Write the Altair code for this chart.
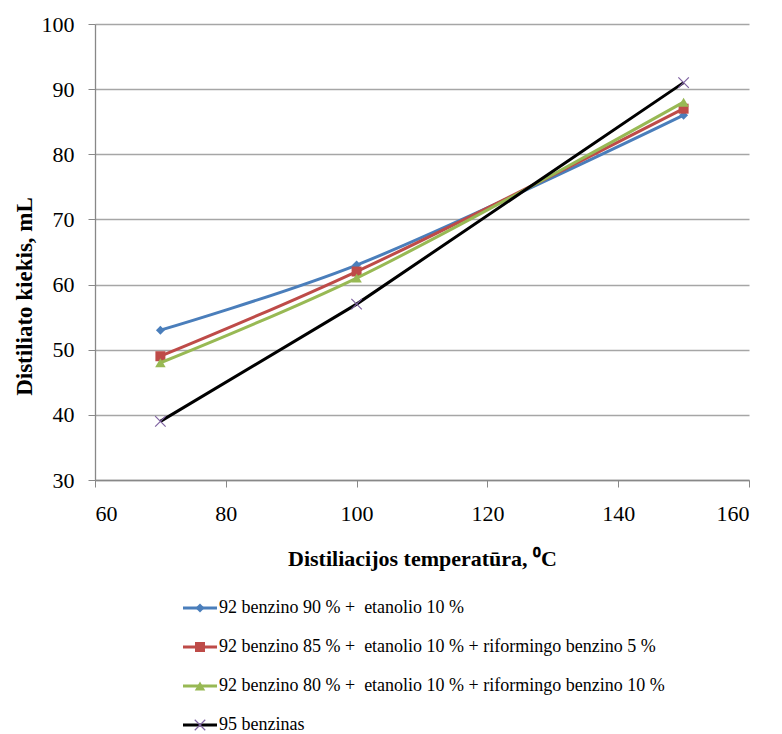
import altair as alt
import pandas as pd

temps = [70, 100, 150]
series_names = [
    "92 benzino 90 % +  etanolio 10 %",
    "92 benzino 85 % +  etanolio 10 % + riformingo benzino 5 %",
    "92 benzino 80 % +  etanolio 10 % + riformingo benzino 10 %",
    "95 benzinas",
]
s1 = [53, 63, 86]
s2 = [49, 62, 87]
s3 = [48, 61, 88]
s4 = [39, 57, 91]
values = [s1, s2, s3, s4]
colors = ["#4A7EBB", "#BE4B48", "#98B954", "#000000"]
marker_colors = ["#4A7EBB", "#BE4B48", "#98B954", "#7F63A1"]
shapes = ["diamond", "square", "triangle-up", "M-1,-1L1,1M-1,1L1,-1"]
sizes = [80, 100, 110, 110]

rows = []
for name, vals in zip(series_names, values):
    for t, v in zip(temps, vals):
        rows.append({"temp": t, "value": v, "series": name})
df = pd.DataFrame(rows)
leg_df = pd.DataFrame({"series": series_names,
                       "row": list(range(len(series_names))),
                       "label": [n.replace("+  ", "+ \u00a0") for n in series_names]})

FONT = "Times New Roman, Liberation Serif, serif"
W, H = 654, 456

xs = alt.X("temp:Q", scale=alt.Scale(domain=[60, 160], nice=False),
           axis=alt.Axis(values=[60, 80, 100, 120, 140, 160], grid=False,
                         title="Distiliacijos temperatūra, \u2070C",
                         titleFontSize=22, titleY=85, titleBaseline="alphabetic"))
ys = alt.Y("value:Q", scale=alt.Scale(domain=[30, 100], nice=False),
           axis=alt.Axis(values=[30, 40, 50, 60, 70, 80, 90, 100], grid=True,
                         title="Distiliato kiekis, mL",
                         titleFontSize=23, titleX=-64, titleY=272,
                         titleBaseline="alphabetic", titleAlign="center", titleAngle=270))
col = alt.Color("series:N", scale=alt.Scale(domain=series_names, range=colors), legend=None)

base = alt.Chart(df)
layers = []
for i, name in enumerate(series_names):
    interp = "catmull-rom" if i < 3 else "linear"
    layers.append(base.transform_filter(alt.datum.series == name)
                  .mark_line(interpolate=interp, strokeWidth=3)
                  .encode(x=xs, y=ys, color=col))
    if i < 3:
        pm = base.mark_point(shape=shapes[i], size=sizes[i], filled=True, opacity=1,
                             color=marker_colors[i])
    else:
        pm = base.mark_point(shape=shapes[i], size=sizes[i], filled=False, opacity=1,
                             strokeWidth=1.2, color=marker_colors[i])
    layers.append(pm.transform_filter(alt.datum.series == name).encode(x=xs, y=ys))

main = alt.layer(*layers)

ly = alt.Y("row:Q", scale=alt.Scale(domain=[0, 3], range=[584, 701], nice=False, zero=False),
           axis=None)
lbase = alt.Chart(leg_df)
leg_layers = [
    lbase.mark_rule(strokeWidth=3).encode(x=alt.value(88), x2=alt.value(122), y=ly, color=col),
]
for i, name in enumerate(series_names):
    if i < 3:
        pm = lbase.mark_point(shape=shapes[i], size=sizes[i], filled=True, opacity=1,
                              color=marker_colors[i])
    else:
        pm = lbase.mark_point(shape=shapes[i], size=sizes[i], filled=False, opacity=1,
                              strokeWidth=1.2, color=marker_colors[i])
    leg_layers.append(pm.transform_filter(alt.datum.series == name)
                      .encode(x=alt.value(105), y=ly))
leg_layers.append(lbase.mark_text(align="left", baseline="middle", font=FONT, fontSize=18,
                                  color="black")
                  .encode(x=alt.value(124), y=ly, text="label:N"))
legend = alt.layer(*leg_layers)

chart = (alt.layer(main, legend)
         .resolve_scale(y="independent")
         .properties(width=W, height=H,
                     autosize=alt.AutoSizeParams(type="none"),
                     padding={"left": 95, "top": 24, "right": 33, "bottom": 254},
                     background="white")
         .configure(font=FONT)
         .configure_view(stroke=None)
         .configure_axis(labelFont=FONT, labelFontSize=22, labelColor="black",
                         titleFont=FONT, titleFontWeight="bold",
                         titleColor="black", domainColor="#888888", tickColor="#888888",
                         tickSize=7, gridColor="#A6A6A6", gridWidth=1.3, domainWidth=1.3)
         .configure_axisX(labelPadding=16)
         .configure_axisY(labelPadding=14)
         )

chart.save("out.html", embed_options={"renderer": "svg", "actions": False})
